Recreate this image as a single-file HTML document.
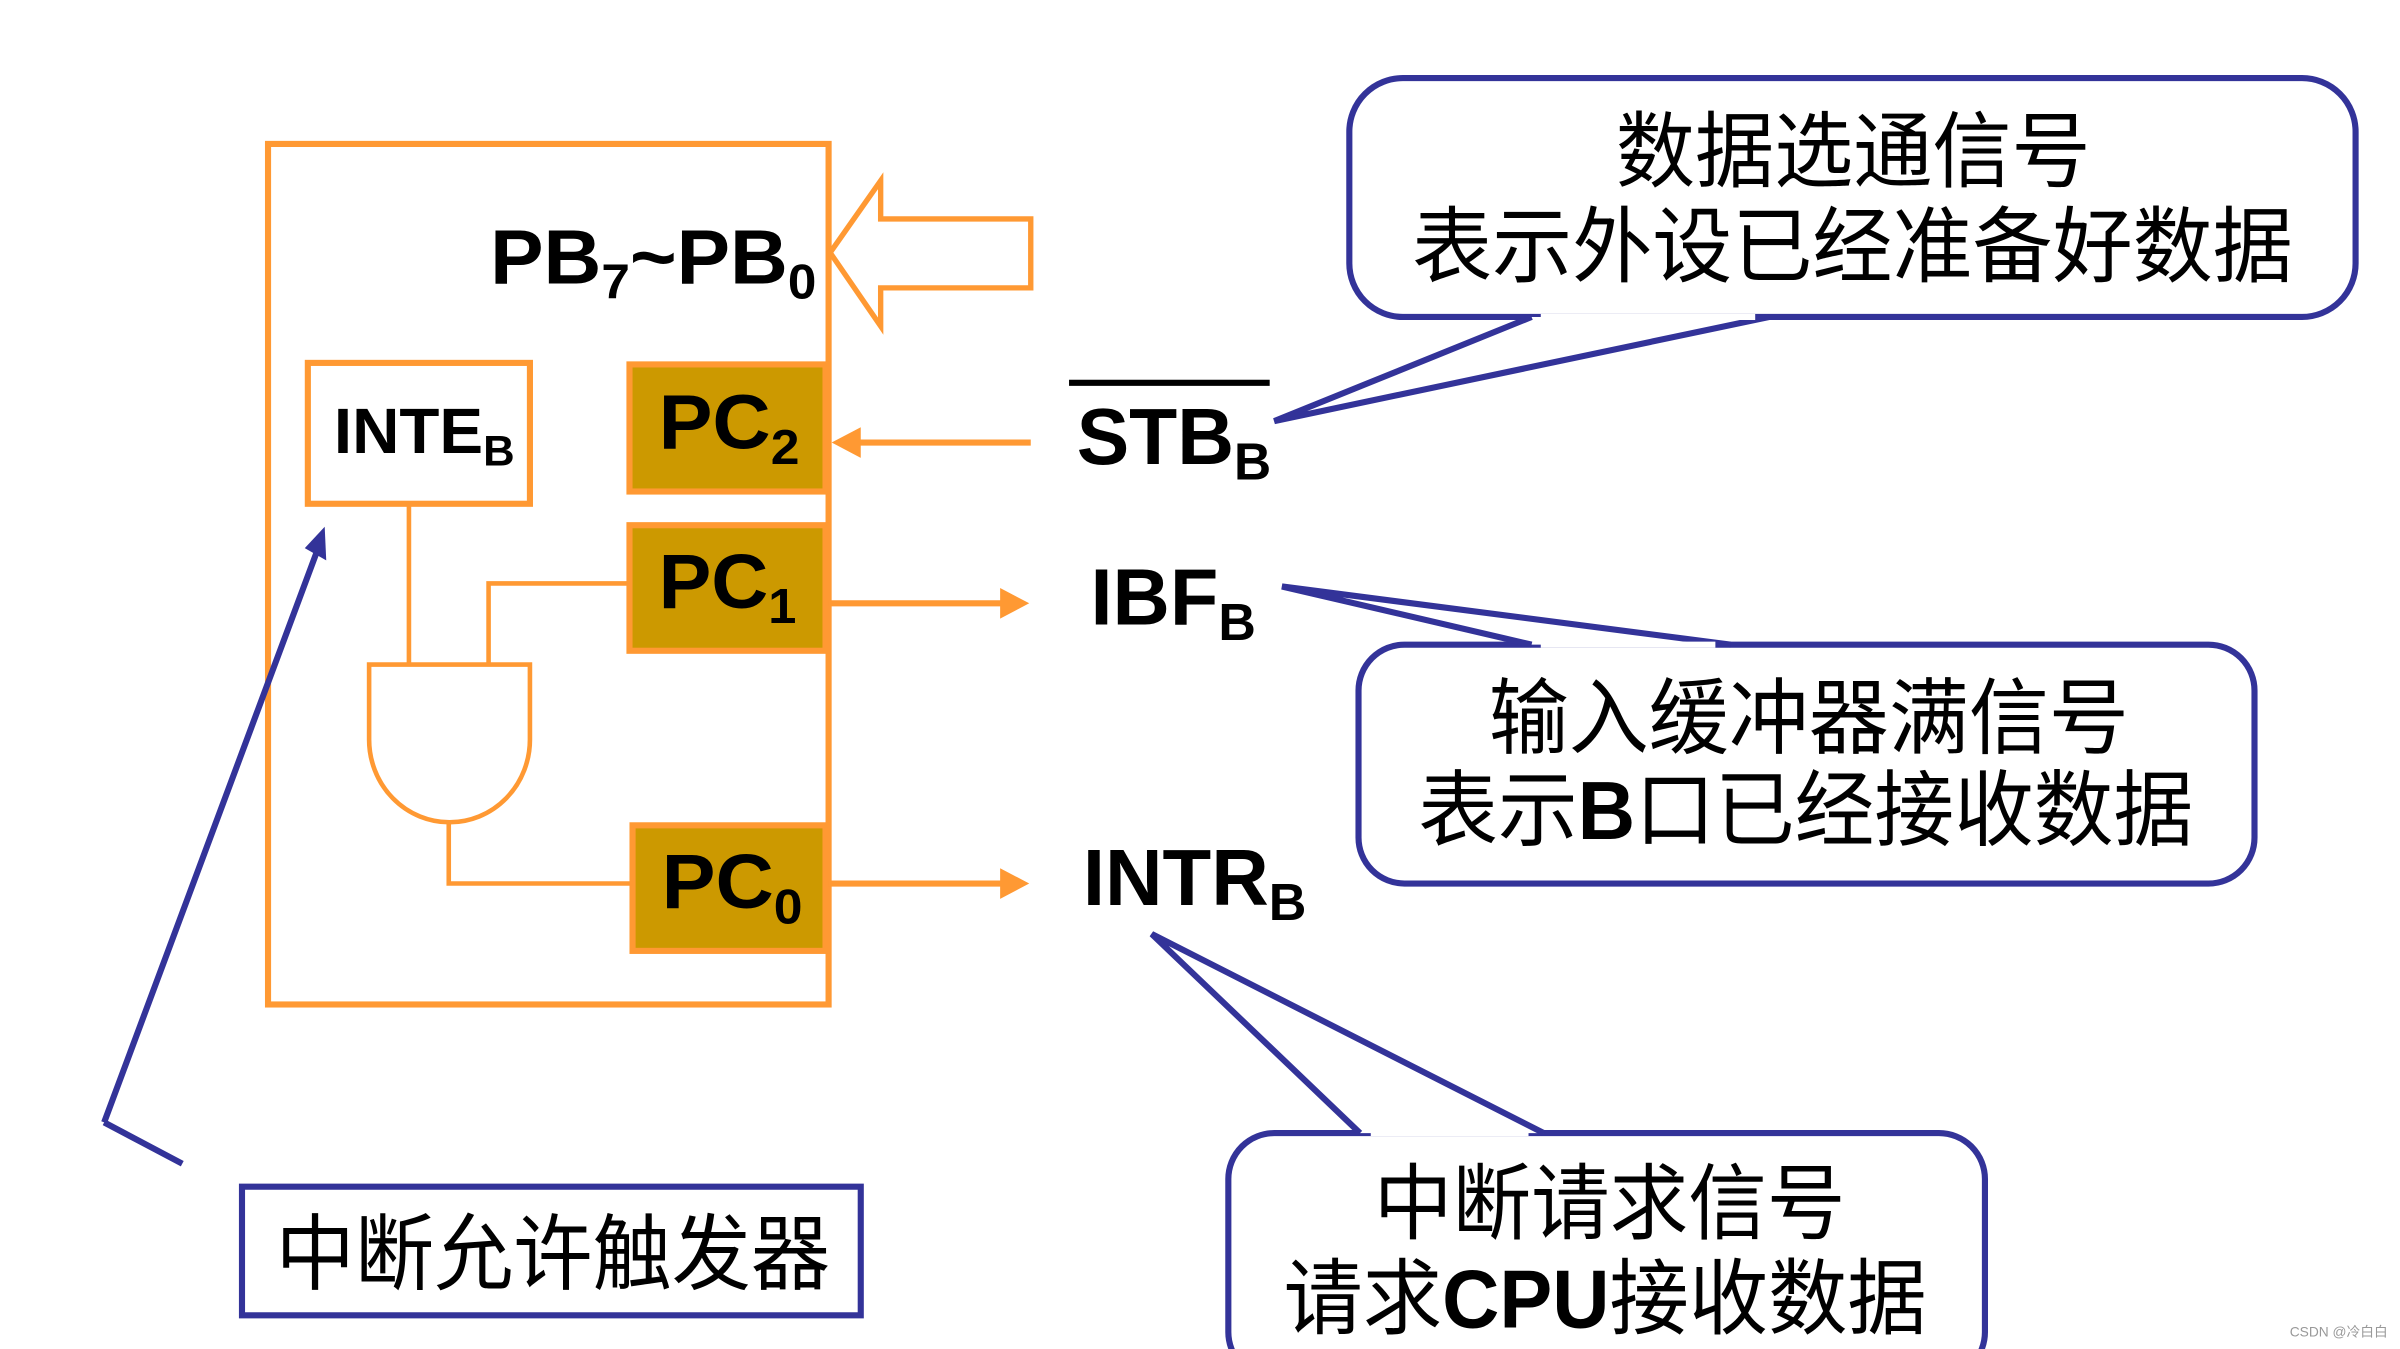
<!DOCTYPE html>
<html><head><meta charset="utf-8"><style>html,body{margin:0;padding:0;background:#fff}svg{display:block}</style></head>
<body>
<svg width="2400" height="1349" viewBox="0 0 1567 881" preserveAspectRatio="none" xmlns="http://www.w3.org/2000/svg">
<rect width="1567" height="881" fill="#fff"/>
<g fill="none" stroke="#FF9933" stroke-width="4">
<rect x="175" y="94" width="366" height="562"/>
<polygon points="542,165 575,118 575,143 673,143 673,188 575,188 575,213" stroke-width="3.5"/>
<rect x="201" y="237" width="145" height="92" fill="#fff"/>
<rect x="411" y="238" width="128" height="83" fill="#CC9900"/>
<rect x="411" y="343" width="128" height="82" fill="#CC9900"/>
<rect x="413" y="539" width="126" height="82" fill="#CC9900"/>
<path d="M267,329 V434 M410,381 H319 V434 M293,537 V577 H413" stroke-width="3"/>
<path d="M241,434 H346 V483 A52.5,54 0 0 1 241,483 Z" fill="#fff" stroke-width="3"/>
<path d="M673,289 H560 M541,394 H655 M541,577 H655" stroke-width="4"/>
</g>
<g fill="#FF9933">
<polygon points="543,289 562,279 562,299"/>
<polygon points="672,394 653,384 653,404"/>
<polygon points="672,577 653,567 653,587"/>
</g>
<g font-family="Liberation Sans, sans-serif" font-weight="bold" fill="#000">
<text x="320" y="185" font-size="50" textLength="213" lengthAdjust="spacingAndGlyphs">PB<tspan font-size="32" dy="10">7</tspan><tspan dy="-10">~PB</tspan><tspan font-size="32" dy="10">0</tspan></text>
<text x="218" y="296" font-size="42" textLength="118" lengthAdjust="spacingAndGlyphs">INTE<tspan font-size="28" dy="8">B</tspan></text>
<text x="430" y="293" font-size="50" textLength="92" lengthAdjust="spacingAndGlyphs">PC<tspan font-size="32" dy="10">2</tspan></text>
<text x="430" y="397" font-size="50" textLength="90" lengthAdjust="spacingAndGlyphs">PC<tspan font-size="32" dy="10">1</tspan></text>
<text x="432" y="593" font-size="50" textLength="92" lengthAdjust="spacingAndGlyphs">PC<tspan font-size="32" dy="10">0</tspan></text>
<text x="703" y="303" font-size="52" textLength="127" lengthAdjust="spacingAndGlyphs">STB<tspan font-size="34" dy="10">B</tspan></text>
<text x="712" y="408" font-size="52" textLength="108" lengthAdjust="spacingAndGlyphs">IBF<tspan font-size="34" dy="10">B</tspan></text>
<text x="707" y="591" font-size="52" textLength="146" lengthAdjust="spacingAndGlyphs">INTR<tspan font-size="34" dy="10">B</tspan></text>
</g>
<rect x="698" y="248" width="131" height="4" fill="#000"/>
<g fill="#fff" stroke="#333399" stroke-width="4">
<rect x="881" y="51" width="657" height="156" rx="35"/>
<rect x="887" y="421" width="585" height="156" rx="30"/>
<rect x="802" y="740" width="494" height="160" rx="30"/>
<rect x="158" y="775" width="404" height="84" rx="0"/>
</g>
<g fill="#fff" stroke="#333399" stroke-width="4" stroke-linejoin="miter">
<path d="M1000,207 L832,275 L1155,207"/>
<path d="M1000,421 L837,383 L1130,421"/>
<path d="M888,740 L752,610 L1008,740"/>
</g>
<g stroke="#fff" stroke-width="4">
<line x1="1006" y1="207" x2="1146" y2="207"/>
<line x1="1006" y1="421" x2="1120" y2="421"/>
<line x1="895" y1="740" x2="998" y2="740"/>
</g>
<g stroke="#333399" stroke-width="4" fill="none">
<path d="M68,733 L207,360 M68,733 L119,760"/>
</g>
<polygon points="212,344 213,366 199,358" fill="#333399"/>
<g font-family="Liberation Sans, 'WenQuanYi Zen Hei', 'Noto Sans CJK SC', sans-serif" fill="#000" font-size="54">
<text x="1055" y="118" textLength="310" lengthAdjust="spacingAndGlyphs">数据选通信号</text>
<text x="922" y="180" textLength="575" lengthAdjust="spacingAndGlyphs">表示外设已经准备好数据</text>
<text x="972" y="488" textLength="418" lengthAdjust="spacingAndGlyphs">输入缓冲器满信号</text>
<text x="926" y="548" textLength="506" lengthAdjust="spacingAndGlyphs">表示<tspan font-weight="bold">B</tspan>口已经接收数据</text>
<text x="897" y="805" textLength="308" lengthAdjust="spacingAndGlyphs">中断请求信号</text>
<text x="838" y="867" textLength="420" lengthAdjust="spacingAndGlyphs">请求<tspan font-weight="bold">CPU</tspan>接收数据</text>
<text x="180" y="838" textLength="362" lengthAdjust="spacingAndGlyphs">中断允许触发器</text>
</g>
<text x="1495" y="873" font-family="Liberation Sans, 'Noto Sans CJK SC', sans-serif" font-size="9" fill="#999">CSDN @冷白白</text>
</svg>
</body></html>
